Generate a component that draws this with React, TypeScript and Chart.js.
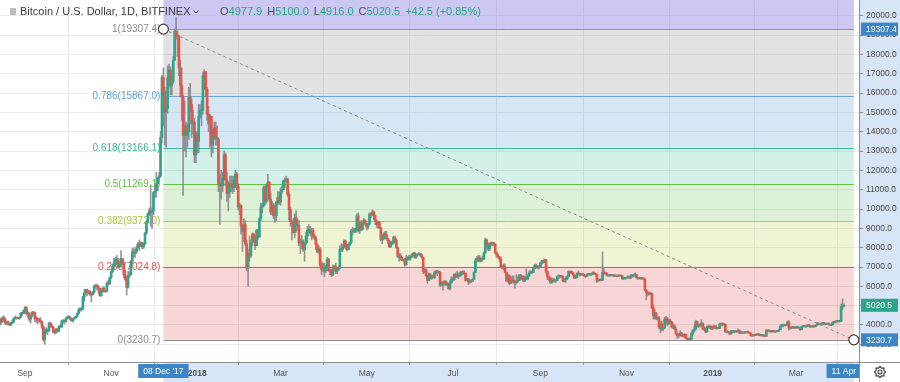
import React, { useEffect, useRef } from "react";
import { Chart, registerables } from "chart.js";
Chart.register(...registerables);

// Daily candles, index 0 = 14 Aug 2017, last = 4 Apr 2019 (BITFINEX BTC/USD)
const firstOpen = 4060;
const closes = [
  // Aug 2017 (from 14th)
  4300,4150,4380,4280,4100,4180,4080,4000,4100,4150,4340,4370,4360,4350,4390,4600,4590,4750,
  // Sep 2017
  4900,4580,4620,4300,4450,4650,4630,4330,4320,4250,4230,4180,3900,3250,3700,3700,3700,4100,3930,3900,3630,3620,3800,3680,3930,3900,4200,4200,4170,4350,
  // Oct 2017
  4400,4400,4310,4220,4330,4370,4440,4600,4780,4780,4830,5450,5650,5830,5700,5750,5600,5580,5700,6000,6000,5980,5900,5520,5730,5890,5770,5750,6150,6130,6450,
  // Nov 2017
  6750,7030,7150,7380,7390,7000,7130,7450,7150,6600,6350,5950,6550,6600,7300,7800,7700,7800,8000,8200,8100,8230,8050,8200,8750,9300,9750,9900,9800,9900,
  // Dec 2017
  10850,10950,11300,11600,11700,13700,16800,16100,15000,15200,16800,17200,16400,16600,17700,19200,19000,18900,17300,16400,15800,13800,14300,13800,14000,15800,15400,14400,14500,12800,13900,
  // Jan 2018
  13500,14800,15100,15100,16900,17100,16200,14900,14400,14800,13300,13800,14200,13600,13600,11300,11200,11200,11600,12800,11500,10800,10900,11300,11200,11100,11500,11800,11200,10100,10200,
  // Feb 2018
  9100,8850,9200,8200,6950,7700,7600,8250,8700,8500,8100,8900,8550,9500,10100,10200,11100,10400,11200,11400,10500,9850,10200,9650,9650,10350,10600,10350,
  // Mar 2018
  10900,11000,11450,11500,11550,10750,9950,9350,9250,8800,9550,9150,9150,8250,8300,8300,7900,8250,8600,8900,8900,8750,8900,8600,8500,8150,7800,7950,7100,6850,6950,
  // Apr 2018
  6800,7050,7400,6800,6780,6600,6900,7030,6770,6840,6950,7900,7900,8000,8350,8050,7900,8170,8280,8850,8920,8800,8950,9650,8870,9280,8930,9350,9400,9250,
  // May 2018
  9070,9220,9750,9700,9850,9650,9370,9190,9320,9030,8420,8480,8700,8680,8480,8350,8060,8240,8240,8530,8400,8000,7520,7580,7470,7350,7350,7110,7460,7390,7500,
  // Jun 2018
  7530,7640,7720,7500,7630,7650,7690,7620,7500,6780,6880,6550,6300,6640,6400,6500,6460,6710,6740,6760,6720,6050,6180,6150,6250,6090,6130,5870,6200,6390,
  // Jul 2018
  6350,6620,6510,6590,6530,6600,6750,6710,6660,6300,6390,6240,6230,6270,6350,6730,7320,7380,7470,7330,7400,7400,7720,8400,8170,7930,8190,8230,8210,8180,7730,
  // Aug 2018
  7610,7540,7420,7010,7030,6940,6720,6290,6550,6150,6250,6330,6260,6190,6270,6320,6590,6400,6500,6270,6480,6370,6530,6700,6740,6710,6920,7090,7030,6980,7030,
  // Sep 2018
  7200,7300,7270,7370,6780,6500,6420,6200,6260,6330,6290,6310,6490,6500,6540,6500,6260,6350,6390,6490,6770,6720,6710,6600,6430,6470,6680,6640,6600,6630,
  // Oct 2018
  6600,6550,6510,6600,6640,6600,6620,6700,6660,6620,6280,6320,6330,6320,6720,6700,6660,6580,6540,6560,6560,6550,6540,6550,6530,6540,6550,6540,6400,6400,6420,
  // Nov 2018
  6450,6480,6430,6560,6520,6600,6610,6460,6400,6420,6420,6400,6380,5800,5680,5620,5600,5640,4880,4480,4620,4330,4330,3900,4050,3790,3840,4300,4280,4060,
  // Dec 2018
  4220,4170,3890,3970,3780,3540,3440,3450,3580,3440,3420,3520,3290,3250,3240,3260,3550,3720,3790,4170,3950,4040,3990,4090,3790,3840,3640,3910,3860,3940,3800,
  // Jan 2019
  3890,3960,3820,3850,3830,4060,4010,4010,4030,3650,3650,3620,3530,3700,3610,3660,3690,3640,3730,3580,3590,3620,3590,3620,3610,3610,3580,3460,3440,3490,3480,
  // Feb 2019
  3500,3530,3460,3460,3490,3430,3420,3700,3690,3720,3650,3680,3660,3640,3660,3690,3760,3950,3960,4020,3970,4010,4160,3810,3880,3860,3870,3850,
  // Mar 2019
  3870,3870,3840,3760,3920,3930,3940,3920,3990,3970,3900,3930,3910,3930,3990,4090,4050,4040,4080,4110,4030,4050,4060,4050,3980,4010,4150,4130,4200,4180,4190,
  // Apr 2019
  4200,4950,4978,5020.5,
];
const highs = [
  4330,4350,4420,4480,4370,4200,4200,4120,4150,4260,4370,4480,4400,4400,4400,4650,4650,4770,
  4950,4950,4720,4620,4480,4700,4700,4670,4450,4380,4340,4380,4200,3950,3800,3870,3800,4130,4150,4050,3920,3760,3820,3820,3960,4000,4250,4280,4250,4380,
  4470,4480,4450,4350,4360,4420,4470,4620,4880,4900,4900,5500,5850,5850,5860,5780,5780,5600,5750,6080,6100,6120,6050,5900,5760,5970,5980,5800,6250,6300,6470,
  6800,7150,7450,7500,7600,7450,7250,7850,7450,7320,6850,6500,6780,6750,7350,7950,8000,7900,8100,8280,8400,8300,8280,8250,8800,9400,9800,10050,11250,10050,
  10900,11200,11900,11650,11900,14000,16900,17300,16300,15800,17400,17500,17350,16900,17900,19300,19900,19200,19000,17700,17300,15900,15600,14500,14400,16300,16500,15700,15100,14700,14000,
  14000,15400,15400,15600,17100,17200,17100,16300,15300,14900,14800,14100,14500,14500,14300,13700,11800,12000,11900,13000,12900,11900,11400,11700,11700,11700,11700,12000,11900,11300,10300,
  10200,9200,9500,9400,8400,7900,8600,8400,8750,8750,8600,8950,8950,9550,10300,10300,11200,11200,11300,11800,11300,10800,10400,10300,9900,10400,10900,10900,
  11100,11200,11500,11600,11700,11600,10900,10100,9400,9500,9750,9900,9500,9400,8450,8650,8400,8300,8800,9100,9200,9100,9000,9000,8700,8600,8200,8100,8000,7300,7200,
  7200,7100,7500,7450,6900,6900,7100,7100,7200,6900,7000,8100,8200,8150,8400,8400,8150,8200,8300,8950,9050,9000,9000,9750,9800,9300,9400,9400,9500,9450,
  9250,9280,9800,9800,9950,9900,9700,9450,9370,9370,9050,8650,8770,8850,8850,8500,8380,8290,8350,8600,8600,8450,8050,7700,7700,7500,7400,7450,7600,7550,7620,
  7600,7700,7750,7770,7650,7700,7750,7700,7680,7500,6900,6900,6600,6700,6650,6550,6590,6790,6830,6830,6800,6750,6250,6250,6300,6300,6200,6170,6300,6500,
  6450,6650,6700,6780,6700,6750,6780,6800,6800,6700,6420,6400,6350,6320,6400,6750,7450,7550,7600,7600,7460,7550,7800,8500,8450,8250,8250,8290,8290,8280,8200,
  7780,7700,7550,7500,7100,7150,7150,6740,6650,6600,6500,6530,6550,6300,6600,6500,6600,6620,6550,6550,6500,6900,6600,6800,6800,6800,6950,7150,7150,7080,7100,
  7250,7350,7340,7420,7400,6800,6540,6450,6450,6400,6400,6350,6550,6600,6580,6560,6520,6400,6500,6550,6800,6800,6800,6750,6620,6550,6700,6800,6680,6650,
  6680,6640,6580,6650,6680,6650,6650,6750,6750,6680,6640,6390,6370,6380,7780,6920,6720,6700,6600,6600,6600,6600,6580,6580,6560,6560,6570,6570,6560,6450,6450,
  6480,6550,6500,6620,6600,6600,6700,6620,6460,6450,6450,6450,6420,6400,5850,5750,5700,5700,5650,5050,4800,4650,4420,4450,4150,4200,3900,4400,4450,4400,
  4320,4300,4180,4080,4000,3880,3580,3580,3700,3620,3470,3550,3510,3350,3320,3350,3630,3760,3970,4250,4200,4050,4050,4270,4120,3900,3850,3950,4000,3960,3950,
  3900,3990,3960,3870,3900,4100,4100,4120,4080,4050,3700,3680,3640,3720,3710,3720,3700,3700,3800,3750,3610,3650,3630,3640,3660,3680,3620,3580,3470,3500,3520,
  3520,3540,3540,3490,3500,3500,3450,3780,3720,3730,3720,3700,3710,3680,3700,3710,3790,4000,4030,4050,4020,4030,4200,4210,3900,3900,3900,3900,
  3890,3890,3900,3850,3940,3950,3960,3990,4000,4000,3980,3950,3940,3960,4010,4130,4100,4080,4100,4140,4130,4070,4080,4080,4050,4040,4170,4160,4220,4220,4210,
  4230,5100,5350,5100,
];
const lows = [
  4000,4000,4140,4200,4020,4000,4000,3980,3970,4080,4110,4300,4300,4320,4290,4380,4500,4580,
  4700,4500,4400,4200,4100,4420,4550,4170,4120,4070,4150,4100,3800,3150,3000,3580,3500,3650,3880,3850,3600,3530,3560,3640,3660,3850,3880,4100,4050,4150,
  4300,4350,4250,4180,4150,4300,4320,4430,4550,4700,4730,4800,5250,5600,5500,5600,5500,5180,5530,5650,5900,5800,5650,5480,5480,5700,5700,5680,5700,6050,6100,
  6400,6700,6900,7050,7250,6950,6950,7050,7100,6450,6300,5550,5900,6450,6600,7150,7500,7500,7700,7930,7850,8050,7950,7950,8150,8700,9300,9650,9100,9000,
  9700,10600,10600,10950,11400,11650,13400,14300,13300,13200,14950,16300,15900,15900,16500,17700,18800,17900,16900,15800,14600,10700,13000,12700,13200,13600,15000,13700,13900,12400,12400,
  12900,12900,14700,14300,14900,16200,15800,14600,14000,13200,12700,12900,13700,13300,13300,10900,9200,10500,10900,11500,11200,10400,9900,10600,10900,10800,10900,11100,11000,9950,9700,
  8700,7800,8300,8100,6800,6000,7300,7500,8100,8300,7900,8100,8400,8550,9400,9800,10100,10200,10300,11100,10400,9700,9700,9500,9300,9400,10200,10250,
  10200,10800,11000,11100,11400,10650,9450,9100,8400,8750,8500,8800,8900,8100,7700,7950,7800,7300,8150,8250,8800,8600,8400,8500,8400,7900,7750,7700,6950,6600,6750,
  6500,6700,7000,6770,6600,6500,6550,6900,6650,6650,6830,6900,7800,7800,8000,7950,7830,7880,8100,8200,8650,8800,8800,8900,8800,8730,8900,8900,9200,9150,
  8900,8970,9200,9550,9670,9450,9200,9050,9000,9000,8350,8200,8400,8450,8450,8200,8000,8000,8150,8180,8300,7960,7500,7300,7350,7330,7300,7050,7100,7350,7370,
  7350,7470,7600,7450,7450,7560,7620,7550,7450,6650,6700,6500,6150,6300,6400,6350,6450,6400,6650,6550,6650,6000,6020,5800,6050,6050,6050,5850,5800,6150,
  6250,6300,6450,6450,6400,6500,6550,6650,6600,6280,6300,6100,6150,6200,6250,6340,6700,7250,7280,7250,7260,7300,7400,7700,8050,7850,7850,8100,8100,8100,7700,
  7500,7450,7300,6950,6900,6850,6700,6250,6200,6080,6150,6200,6150,5900,6120,6200,6300,6330,6350,6250,6250,6350,6350,6500,6650,6650,6700,6900,6950,6900,6900,
  6980,7130,7200,7220,6680,6350,6300,6150,6150,6230,6200,6200,6290,6400,6460,6440,6230,6230,6200,6350,6480,6650,6660,6580,6400,6400,6430,6600,6530,6570,
  6560,6500,6450,6500,6580,6570,6560,6600,6630,6580,6200,6250,6280,6280,6300,6650,6620,6540,6520,6530,6540,6530,6500,6520,6490,6500,6520,6510,6350,6350,6370,
  6380,6440,6400,6400,6480,6480,6580,6420,6350,6380,6370,6360,6350,5750,5300,5500,5550,5560,4850,4300,4300,4280,4250,3800,3600,3700,3700,3820,4150,3950,
  4030,4120,3850,3810,3760,3500,3300,3350,3450,3400,3380,3400,3280,3240,3250,3230,3260,3500,3650,3750,3900,3850,3900,3950,3750,3720,3600,3630,3850,3820,3760,
  3770,3850,3800,3780,3800,3820,3990,3950,3990,3600,3600,3580,3520,3520,3600,3600,3640,3630,3650,3550,3550,3560,3570,3580,3590,3580,3550,3420,3400,3430,3450,
  3450,3480,3440,3430,3440,3420,3400,3410,3650,3640,3620,3630,3640,3610,3630,3650,3670,3750,3900,3900,3950,3950,3990,3730,3780,3810,3820,3820,
  3830,3840,3820,3720,3750,3890,3900,3860,3910,3930,3880,3880,3880,3880,3920,3980,4020,4010,4000,4050,4000,4010,4030,4030,3960,3960,4000,4100,4110,4160,4150,
  4150,4180,4800,4916,
];

// time axis (day index since 14 Aug 2017)
const tickDays = [18, 79, 140, 199, 260, 321, 383, 444, 505, 564];
const tickLabels = ["Sep", "Nov", "2018", "Mar", "May", "Jul", "Sep", "Nov", "2019", "Mar"];
const yearLabels = ["2018", "2019"];
const priceTicks = [3000, 4000, 5000, 6000, 7000, 8000, 9000, 10000, 11000, 12000, 13000, 14000, 15000, 16000, 17000, 18000, 19000, 20000];

// Fibonacci retracement drawing
const fibStartDay = 116;
const fibEndDay = 605;
const fibStartLabel = "08 Dec '17";
const fibEndLabel = "11 Apr";
const fibHigh = 19307.4;
const fibLow = 3230.7;
const fibLevels = [1.618, 1, 0.786, 0.618, 0.5, 0.382, 0.236, 0];
const fibNames = ["1.618", "1", "0.786", "0.618", "0.5", "0.382", "0.236", "0"];
const fibLineColors = ["#8a7fe0", "#8f96a8", "#6aa5d9", "#3dbd9c", "#66c04a", "#b3cc3a", "#e05b56", "#8c8c8c"];
const fibLabelColors = ["#8a7fe0", "#8a8a8a", "#5b9fd6", "#36b892", "#5fbf45", "#a8c43a", "#dc5652", "#8a8a8a"];
const fibBandColors = [
  "rgba(128,118,225,0.40)",
  "rgba(150,150,150,0.28)",
  "rgba(106,165,217,0.28)",
  "rgba(61,189,156,0.22)",
  "rgba(102,192,74,0.22)",
  "rgba(179,204,58,0.22)",
  "rgba(224,91,86,0.25)",
];

const lastPrice = 5020.5;
const legendTitle = "Bitcoin / U.S. Dollar, 1D, BITFINEX";
const legendLetters = ["O", "H", "L", "C"];
const legendValues = ["4977.9", "5100.0", "4916.0", "5020.5"];
const legendChange = ["+42.5", "(+0.85%)"];

const UP = "#2fa587";
const DOWN = "#e5534a";
const WICK = "rgba(125,125,130,0.8)";
const FONT = "'Liberation Sans', Arial, sans-serif";

const X_MIN = 0.297;
const X_MAX = 608.65;
const Y_MIN = 2086;
const Y_MAX = 20812;

function fibPrice(l: number) {
  return fibLow + l * (fibHigh - fibLow);
}
function fmt1(p: number) {
  return (Math.round(p * 10 + 1e-6) / 10).toFixed(1);
}

const fibPlugin = {
  id: "fibDrawing",
  beforeDraw(chart: any) {
    const { ctx, chartArea: a, scales } = chart;
    const x = scales.x, y = scales.y;
    ctx.save();
    ctx.fillStyle = "#ffffff";
    ctx.fillRect(0, 0, chart.width, chart.height);
    ctx.fillStyle = "#d8e5f7";
    const yTop = Math.max(0, y.getPixelForValue(fibPrice(fibLevels[0])));
    const yBot = y.getPixelForValue(fibLow);
    ctx.fillRect(a.right, yTop, chart.width - a.right, yBot - yTop);
    const x0 = x.getPixelForValue(fibStartDay);
    const x1 = Math.min(a.right, x.getPixelForValue(fibEndDay));
    ctx.fillRect(x0, a.bottom, x1 - x0, chart.height - a.bottom);
    ctx.restore();
  },
  beforeDatasetsDraw(chart: any) {
    const { ctx, chartArea: a, scales } = chart;
    const x = scales.x, y = scales.y;
    const x0 = x.getPixelForValue(fibStartDay);
    const x1 = x.getPixelForValue(fibEndDay);
    ctx.save();
    ctx.beginPath();
    ctx.rect(a.left, a.top, a.right - a.left, a.bottom - a.top);
    ctx.clip();
    for (let k = 0; k < fibLevels.length - 1; k++) {
      const yt = y.getPixelForValue(fibPrice(fibLevels[k]));
      const yb = y.getPixelForValue(fibPrice(fibLevels[k + 1]));
      ctx.fillStyle = fibBandColors[k];
      ctx.fillRect(x0, yt, x1 - x0, yb - yt);
    }
    ctx.lineWidth = 1;
    ctx.font = `10px ${FONT}`;
    ctx.textAlign = "right";
    ctx.textBaseline = "middle";
    for (let k = 0; k < fibLevels.length; k++) {
      const p = fibPrice(fibLevels[k]);
      const yy = Math.round(y.getPixelForValue(p)) + 0.5;
      if (yy < a.top || yy > a.bottom) continue;
      ctx.strokeStyle = fibLineColors[k];
      ctx.beginPath();
      ctx.moveTo(x0, yy);
      ctx.lineTo(x1, yy);
      ctx.stroke();
      ctx.fillStyle = fibLabelColors[k];
      ctx.fillText(`${fibNames[k]}(${fmt1(p)})`, x0 - 3, yy);
    }
    ctx.restore();
  },
  afterDatasetsDraw(chart: any) {
    const { ctx, scales } = chart;
    const x = scales.x, y = scales.y;
    const x0 = x.getPixelForValue(fibStartDay);
    const x1 = x.getPixelForValue(fibEndDay);
    const y0 = y.getPixelForValue(fibHigh);
    const y1 = y.getPixelForValue(fibLow);
    ctx.save();
    ctx.strokeStyle = "#8c8c8c";
    ctx.lineWidth = 1;
    ctx.setLineDash([3, 3]);
    ctx.beginPath();
    ctx.moveTo(x0, y0);
    ctx.lineTo(x1, y1);
    ctx.stroke();
    ctx.setLineDash([]);
    for (const [cx, cy] of [[x0, y0], [x1, y1]]) {
      ctx.beginPath();
      ctx.arc(cx, cy, 5, 0, Math.PI * 2);
      ctx.fillStyle = "#ffffff";
      ctx.fill();
      ctx.strokeStyle = "#3a3a3a";
      ctx.lineWidth = 1.2;
      ctx.stroke();
    }
    ctx.restore();
  },
  afterDraw(chart: any) {
    const { ctx, chartArea: a, scales } = chart;
    const x = scales.x, y = scales.y;
    ctx.save();
    // time axis boxes
    ctx.save();
    ctx.beginPath();
    ctx.rect(0, a.bottom, a.right, chart.height - a.bottom);
    ctx.clip();
    ctx.font = `8.5px ${FONT}`;
    ctx.textAlign = "center";
    ctx.textBaseline = "middle";
    for (const [day, label] of [[fibStartDay, fibStartLabel], [fibEndDay, fibEndLabel]] as [number, string][]) {
      let cx = x.getPixelForValue(day);
      const w = ctx.measureText(label).width + 10;
      if (cx + w / 2 > a.right) cx = a.right - w / 2 + 2;
      ctx.fillStyle = "#3d86c6";
      ctx.fillRect(cx - w / 2, a.bottom + 2, w, 14);
      ctx.fillStyle = "#ffffff";
      ctx.fillText(label, cx, a.bottom + 9.5);
    }
    ctx.restore();
    // price axis boxes
    ctx.font = `8.5px ${FONT}`;
    ctx.textAlign = "left";
    ctx.textBaseline = "middle";
    const boxes: [number, string][] = [[fibHigh, "#3d86c6"], [lastPrice, "#2aa587"], [fibLow, "#3d86c6"]];
    for (const [p, col] of boxes) {
      const yy = y.getPixelForValue(p);
      ctx.fillStyle = col;
      ctx.fillRect(a.right + 2, yy - 6.5, 37, 13);
      ctx.fillStyle = "#ffffff";
      ctx.fillText(fmt1(p), a.right + 7, yy + 0.5);
    }
    // corner cell with gear
    ctx.fillStyle = "#ffffff";
    ctx.fillRect(a.right, a.bottom, chart.width - a.right, chart.height - a.bottom);
    const gx = a.right + 21, gy = a.bottom + 10;
    ctx.beginPath();
    for (let k = 0; k < 16; k++) {
      const ang = (k / 16) * Math.PI * 2;
      const r = k % 2 === 0 ? 5.6 : 4.2;
      const px = gx + Math.cos(ang) * r, py = gy + Math.sin(ang) * r;
      if (k === 0) ctx.moveTo(px, py); else ctx.lineTo(px, py);
    }
    ctx.closePath();
    ctx.strokeStyle = "#333";
    ctx.lineWidth = 1.1;
    ctx.stroke();
    ctx.beginPath();
    ctx.arc(gx, gy, 2, 0, Math.PI * 2);
    ctx.stroke();
    // borders
    ctx.strokeStyle = "#8f8f8f";
    ctx.lineWidth = 1;
    ctx.beginPath();
    ctx.moveTo(a.right + 0.5, 0);
    ctx.lineTo(a.right + 0.5, chart.height);
    ctx.moveTo(0, a.bottom + 0.5);
    ctx.lineTo(chart.width, a.bottom + 0.5);
    ctx.stroke();
    // legend
    ctx.fillStyle = "#bdbdbd";
    ctx.fillRect(10, 8, 6, 7);
    ctx.font = `11px ${FONT}`;
    ctx.textAlign = "left";
    ctx.textBaseline = "middle";
    ctx.fillStyle = "#3a3a3a";
    ctx.fillText(legendTitle, 20, 12);
    const tw = ctx.measureText(legendTitle).width;
    ctx.strokeStyle = "#3a3a3a";
    ctx.lineWidth = 1;
    ctx.beginPath();
    ctx.moveTo(20 + tw + 3, 10.5);
    ctx.lineTo(20 + tw + 5.5, 13);
    ctx.lineTo(20 + tw + 8, 10.5);
    ctx.stroke();
    let lx = 220;
    for (let k = 0; k < legendLetters.length; k++) {
      ctx.fillStyle = "#4a4a4a";
      ctx.fillText(legendLetters[k], lx, 12);
      lx += ctx.measureText(legendLetters[k]).width;
      ctx.fillStyle = "#2aa587";
      ctx.fillText(legendValues[k], lx, 12);
      lx += ctx.measureText(legendValues[k]).width + 5;
    }
    ctx.fillStyle = "#2aa587";
    ctx.fillText(legendChange[0], lx, 12);
    lx += ctx.measureText(legendChange[0]).width + 3;
    ctx.fillText(legendChange[1], lx, 12);
    ctx.restore();
  },
};

export default function App() {
  const ref = useRef<HTMLCanvasElement | null>(null);
  useEffect(() => {
    if (!ref.current) return;
    const opens = closes.map((c, i) => (i === 0 ? firstOpen : closes[i - 1]));
    const bodyData = closes.map((c, i) => ({ x: i, y: [opens[i], c] }));
    const wickData = closes.map((c, i) => ({
      x: i,
      y: [Math.min(lows[i] ?? c, opens[i], c), Math.max(highs[i] ?? c, opens[i], c)],
    }));
    const bodyColors = closes.map((c, i) => (c >= opens[i] ? UP : DOWN));
    const chart = new Chart(ref.current, {
      type: "bar",
      data: {
        datasets: [
          {
            data: bodyData as any,
            backgroundColor: bodyColors,
            borderWidth: 0,
            barThickness: 2,
            minBarLength: 1,
            grouped: false,
          } as any,
          {
            data: wickData as any,
            backgroundColor: WICK,
            borderWidth: 0,
            barThickness: 1,
            grouped: false,
          } as any,
        ],
      },
      options: {
        animation: false,
        responsive: false,
        devicePixelRatio: 1,
        layout: { padding: 0 },
        plugins: { legend: { display: false }, tooltip: { enabled: false } },
        scales: {
          x: {
            type: "linear",
            min: X_MIN,
            max: X_MAX,
            offset: false,
            afterBuildTicks: (s: any) => {
              s.ticks = tickDays.map((v) => ({ value: v }));
            },
            afterFit: (s: any) => {
              s.height = 20;
              s.paddingLeft = 0;
              s.paddingRight = 0;
              s.paddingTop = 0;
              s.paddingBottom = 0;
            },
            ticks: {
              autoSkip: false,
              maxRotation: 0,
              padding: 4,
              color: "#555555",
              font: (c: any) => {
                const idx = tickDays.indexOf(c.tick ? c.tick.value : -1);
                const lab = idx >= 0 ? tickLabels[idx] : "";
                return { family: FONT, size: 8.5, weight: yearLabels.includes(lab) ? "bold" : "normal" };
              },
              callback: (v: any) => {
                const idx = tickDays.indexOf(Number(v));
                return idx >= 0 ? tickLabels[idx] : "";
              },
            },
            grid: { color: "#e9ebef", tickLength: 3, tickColor: "#9a9a9a" },
            border: { display: false },
          },
          y: {
            type: "linear",
            position: "right",
            min: Y_MIN,
            max: Y_MAX,
            afterBuildTicks: (s: any) => {
              s.ticks = priceTicks.map((v) => ({ value: v }));
            },
            afterFit: (s: any) => {
              s.width = 41;
              s.paddingTop = 0;
              s.paddingBottom = 0;
              s.paddingLeft = 0;
              s.paddingRight = 0;
            },
            ticks: {
              padding: 3,
              color: "#4a4a4a",
              font: { family: FONT, size: 8.5 },
              callback: (v: any) => Number(v).toFixed(1),
            },
            grid: { color: "#e9ebef", tickLength: 4, tickColor: "#8a8a8a" },
            border: { display: false },
          },
        },
      } as any,
      plugins: [fibPlugin],
    });
    return () => chart.destroy();
  }, []);
  return (
    <div style={{ position: "absolute", left: 0, top: 0, width: 900, height: 382, background: "#fff" }}>
      <canvas ref={ref} width={900} height={382} style={{ width: 900, height: 382, display: "block" }} />
    </div>
  );
}
